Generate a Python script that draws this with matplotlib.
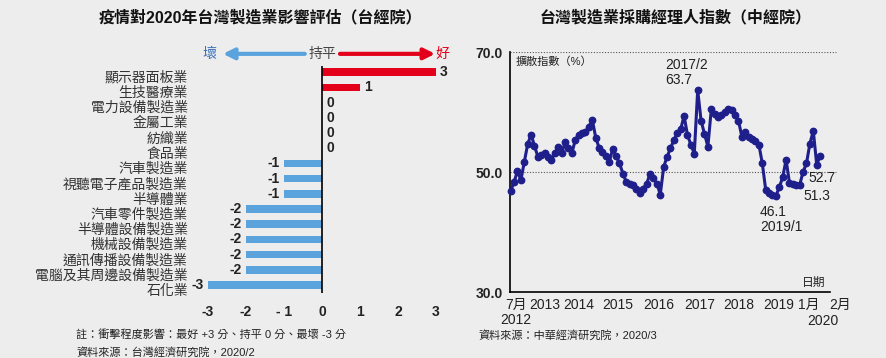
import matplotlib
matplotlib.use("Agg")
import matplotlib.pyplot as plt
import numpy as np

plt.rcParams['font.family'] = ['Liberation Sans', 'Noto Sans CJK TC', 'DejaVu Sans']

# left chart: impact scores
categories = ['顯示器面板業', '生技醫療業', '電力設備製造業', '金屬工業', '紡織業', '食品業',
              '汽車製造業', '視聽電子產品製造業', '半導體業', '汽車零件製造業',
              '半導體設備製造業', '機械設備製造業', '通訊傳播設備製造業',
              '電腦及其周邊設備製造業', '石化業']
scores = [3, 1, 0, 0, 0, 0, -1, -1, -1, -2, -2, -2, -2, -2, -3]
score_ticks = [-3, -2, -1, 0, 1, 2, 3]
score_ticklabels = ['-3', '-2', '- 1', '0', '1', '2', '3']

# right chart: PMI, monthly from 2012/7 to 2020/2
pmi = [46.9, 48.4, 50.2, 48.7, 51.7, 54.7,
       56.3, 54.4, 52.6, 52.9, 53.2, 52.6, 52.1, 53.2, 54.3, 53.2, 55.0, 54.1,
       53.2, 55.4, 56.3, 56.6, 56.8, 57.6, 58.8, 55.8, 54.1, 53.4, 52.8, 51.7,
       53.9, 52.7, 51.5, 49.8, 48.4, 48.1, 47.9, 47.2, 46.5, 47.3, 48.1, 49.8,
       49.0, 48.1, 46.3, 50.9, 52.6, 54.0, 55.4, 56.5, 57.2, 59.4, 56.2, 54.6,
       53.1, 63.7, 58.6, 56.4, 54.3, 60.5, 59.8, 59.3, 59.6, 60.0, 60.5, 60.4,
       59.5, 58.6, 55.9, 56.8, 55.9, 55.6, 55.3, 54.6, 51.5, 47.1, 46.6, 46.3,
       46.1, 47.5, 49.2, 52.1, 48.2, 48.0, 47.9, 47.9, 50.1, 51.5, 54.8, 56.9,
       51.3, 52.7]
pmi_ticklabels = ['7月\n2012', '2013', '2014', '2015', '2016', '2017', '2018', '2019', '1月', '2月']
pmi_tickpos = [1.6, 10.1, 19.9, 31.4, 43.6, 55.7, 67.2, 78.7, 87.8, 96.9]

RED = '#e2001a'
BLUE = '#5ba3dc'
NAVY = '#1f1f8c'
BG = '#ededed'

fig = plt.figure(figsize=(8.86, 3.58), dpi=100, facecolor=BG)

# ---------- left: bar chart ----------
ax = fig.add_axes([0.2262, 0.1827, 0.2745, 0.6329])
ax.set_facecolor('none')
rows = np.arange(len(categories))
colors = [RED if s > 0 else BLUE for s in scores]
ax.barh(rows, scores, height=0.5, color=colors)
ax.axvline(0, color='black', lw=1.2)
ax.set_xlim(-3.2, 3.2)
ax.set_ylim(14.5, -0.4)
for sp in ax.spines.values():
    sp.set_visible(False)
ax.set_yticks(rows)
ax.set_yticklabels(categories, fontsize=10, color='#333333')
ax.set_xticks(score_ticks)
ax.set_xticklabels(score_ticklabels, fontsize=10, fontweight='bold', color='#222222')
ax.tick_params(axis='x', length=0, pad=9)
ax.tick_params(axis='y', length=0, pad=9)
import matplotlib.transforms as mtrans
for lab in ax.get_yticklabels():
    lab.set_transform(lab.get_transform() + mtrans.ScaledTranslation(0, -3 / 72, fig.dpi_scale_trans))

for r, s in zip(rows, scores):
    if s < 0:
        ax.annotate(str(s), (s, r), xytext=(-3, 0), textcoords='offset points',
                    ha='right', va='center', fontsize=10, fontweight='bold', color='#222222')
    else:
        ax.annotate(str(s), (s, r), xytext=(3, 0), textcoords='offset points',
                    ha='left', va='center', fontsize=10, fontweight='bold', color='#222222')

# direction header
ax.annotate('', xy=(-2.68, -1.2), xytext=(-0.38, -1.2), annotation_clip=False,
            arrowprops=dict(arrowstyle='-|>', color=BLUE, lw=3, mutation_scale=16))
ax.annotate('', xy=(3.05, -1.2), xytext=(0.4, -1.2), annotation_clip=False,
            arrowprops=dict(arrowstyle='-|>', color=RED, lw=3, mutation_scale=16))
ax.text(-2.95, -1.2, '壞', color='#3a70b8', fontsize=10, ha='center', va='center', clip_on=False)
ax.text(0.0, -1.2, '持平', color='#444444', fontsize=10, ha='center', va='center', clip_on=False)
ax.text(3.18, -1.2, '好', color=RED, fontsize=10, ha='center', va='center', clip_on=False)

fig.text(0.2935, 0.95, '疫情對2020年台灣製造業影響評估（台經院）', fontsize=11.5,
         fontweight='bold', ha='center', va='center', color='#111111')
fig.text(0.0858, 1 - 335 / 358, '註：衝擊程度影響：最好 +3 分、持平 0 分、最壞 -3 分',
         fontsize=8, ha='left', va='center', color='#222222')
fig.text(0.0858, 1 - 352 / 358, '資料來源：台灣經濟研究院，2020/2',
         fontsize=8, ha='left', va='center', color='#222222')

# ---------- right: PMI line ----------
ax2 = fig.add_axes([510.0 / 886, 0.1835, 330.5 / 886, 0.6704])
ax2.set_facecolor('none')
months = np.arange(len(pmi))
ax2.plot(months, pmi, color=NAVY, lw=2.2, marker='o', ms=4.6, clip_on=False, zorder=3)
ax2.set_xlim(-0.2, 97)
ax2.set_ylim(30, 70)
ax2.hlines([50, 70], -0.2, 95.7, colors='#555555', linestyles=(0, (1, 1.5)), lw=0.8, zorder=1)
ax2.spines['top'].set_visible(False)
ax2.spines['right'].set_visible(False)
ax2.spines['bottom'].set_bounds(-0.2, 94)
ax2.spines['left'].set_linewidth(1.2)
ax2.spines['bottom'].set_linewidth(1.2)
ax2.set_yticks([30, 50, 70])
ax2.set_yticklabels(['30.0', '50.0', '70.0'], fontsize=10, fontweight='bold', color='#222222')
ax2.set_xticks(pmi_tickpos)
ax2.set_xticklabels(pmi_ticklabels, fontsize=10, color='#222222', linespacing=1.1)
ax2.tick_params(axis='both', length=0)
ax2.tick_params(axis='y', pad=5)
ax2.tick_params(axis='x', pad=4)

ax2.text(91.8, -0.118, '2020', transform=ax2.get_xaxis_transform(), fontsize=10,
         ha='center', va='center', color='#222222')
ax2.text(1.6, 68.4, '擴散指數（%）', fontsize=8, ha='left', va='center', color='#222222')
ax2.text(85.6, 31.6, '日期', fontsize=8.5, ha='left', va='center', color='#222222')
ax2.text(45.4, 69.0, '2017/2\n63.7', fontsize=10, ha='left', va='top', color='#222222', linespacing=1.1)
ax2.text(73.3, 44.6, '46.1\n2019/1', fontsize=10, ha='left', va='top', color='#222222', linespacing=1.1)
ax2.text(87.7, 49.05, '52.7', fontsize=10, ha='left', va='center', color='#222222')
ax2.text(86.0, 46.05, '51.3', fontsize=10, ha='left', va='center', color='#222222')

fig.text(676 / 886, 0.95, '台灣製造業採購經理人指數（中經院）', fontsize=11.5,
         fontweight='bold', ha='center', va='center', color='#111111')
fig.text(478 / 886, 1 - 335 / 358, '資料來源：中華經濟研究院，2020/3',
         fontsize=8, ha='left', va='center', color='#222222')

fig.savefig('out.png', dpi=100, facecolor=BG)
